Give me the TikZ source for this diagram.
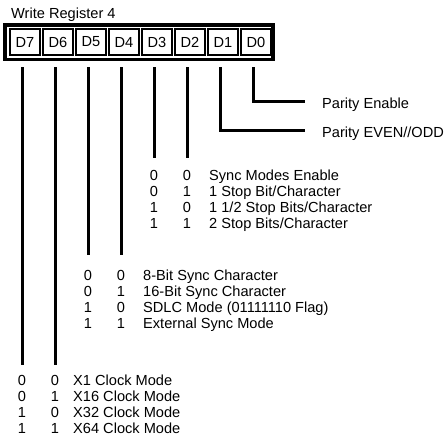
\documentclass[tikz,border=0pt]{standalone}
\usepackage{fontspec}
\setmainfont{Liberation Sans}
\begin{document}
\begin{tikzpicture}[x=1pt,y=-1pt,
  every node/.style={inner sep=0pt, font=\fontsize{14.6}{16}\selectfont},
  cell/.style={draw, line width=1.6pt, minimum width=30pt, minimum height=26pt},
  regbox/.style={draw, line width=3.5pt, minimum width=268pt, minimum height=34.5pt},
  wire/.style={line width=3pt},
  txt/.style={anchor=base west},
  bit/.style={anchor=base}]
\useasboundingbox (0,0) rectangle (446,437);
\node[txt] (title) at (11,18) {Write Register 4};
\node[regbox] (reg) at (139,42.25) {};
\node[cell] (d7) at (25,42) {D7};
\node[cell] (d6) at (58,42) {D6};
\node[cell] (d5) at (91,42) {D5};
\node[cell] (d4) at (124,42) {D4};
\node[cell] (d3) at (157,42) {D3};
\node[cell] (d2) at (190,42) {D2};
\node[cell] (d1) at (223,42) {D1};
\node[cell] (d0) at (256,42) {D0};
\coordinate (s7) at (22,67);
\coordinate (s6) at (55,67);
\coordinate (s5) at (88,67);
\coordinate (s4) at (121,67);
\coordinate (s3) at (154,67);
\coordinate (s2) at (187,67);
\coordinate (s1) at (220,67);
\coordinate (s0) at (253,67);
\coordinate (e0) at (253,101.5);
\coordinate (f0) at (305,101.5);
\coordinate (e1) at (220,130.5);
\coordinate (f1) at (305,130.5);
\coordinate (e2) at (187,158);
\coordinate (e3) at (154,158);
\coordinate (e4) at (121,255);
\coordinate (e5) at (88,255);
\coordinate (e6) at (55,365);
\coordinate (e7) at (22,365);
\draw[wire] (s0) -- (e0) -- (f0);
\draw[wire] (s1) -- (e1) -- (f1);
\draw[wire] (s2) -- (e2);
\draw[wire] (s3) -- (e3);
\draw[wire] (s4) -- (e4);
\draw[wire] (s5) -- (e5);
\draw[wire] (s6) -- (e6);
\draw[wire] (s7) -- (e7);
\node[txt] (pe) at (322,108) {Parity Enable};
\node[txt] (po) at (322,137) {Parity EVEN//ODD};
% D3 D2 group
\node[bit] (ga0) at (154,180) {0}; \node[bit] (gb0) at (187,180) {0}; \node[txt] (gt0) at (209,180) {Sync Modes Enable};
\node[bit] (ga1) at (154,196) {0}; \node[bit] (gb1) at (187,196) {1}; \node[txt] (gt1) at (209,196) {1 Stop Bit/Character};
\node[bit] (ga2) at (154,212) {1}; \node[bit] (gb2) at (187,212) {0}; \node[txt] (gt2) at (209,212) {1 1/2 Stop Bits/Character};
\node[bit] (ga3) at (154,228) {1}; \node[bit] (gb3) at (187,228) {1}; \node[txt] (gt3) at (209,228) {2 Stop Bits/Character};
% D5 D4 group
\node[bit] (ha0) at (88,280) {0}; \node[bit] (hb0) at (121,280) {0}; \node[txt] (ht0) at (143,280) {8-Bit Sync Character};
\node[bit] (ha1) at (88,296) {0}; \node[bit] (hb1) at (121,296) {1}; \node[txt] (ht1) at (143,296) {16-Bit Sync Character};
\node[bit] (ha2) at (88,312) {1}; \node[bit] (hb2) at (121,312) {0}; \node[txt] (ht2) at (143,312) {SDLC Mode (01111110 Flag)};
\node[bit] (ha3) at (88,328) {1}; \node[bit] (hb3) at (121,328) {1}; \node[txt] (ht3) at (143,328) {External Sync Mode};
% D7 D6 group
\node[bit] (ka0) at (22,385) {0}; \node[bit] (kb0) at (55,385) {0}; \node[txt] (kt0) at (73,385) {X1 Clock Mode};
\node[bit] (ka1) at (22,401) {0}; \node[bit] (kb1) at (55,401) {1}; \node[txt] (kt1) at (73,401) {X16 Clock Mode};
\node[bit] (ka2) at (22,417) {1}; \node[bit] (kb2) at (55,417) {0}; \node[txt] (kt2) at (73,417) {X32 Clock Mode};
\node[bit] (ka3) at (22,433) {1}; \node[bit] (kb3) at (55,433) {1}; \node[txt] (kt3) at (73,433) {X64 Clock Mode};
\end{tikzpicture}
\end{document}
